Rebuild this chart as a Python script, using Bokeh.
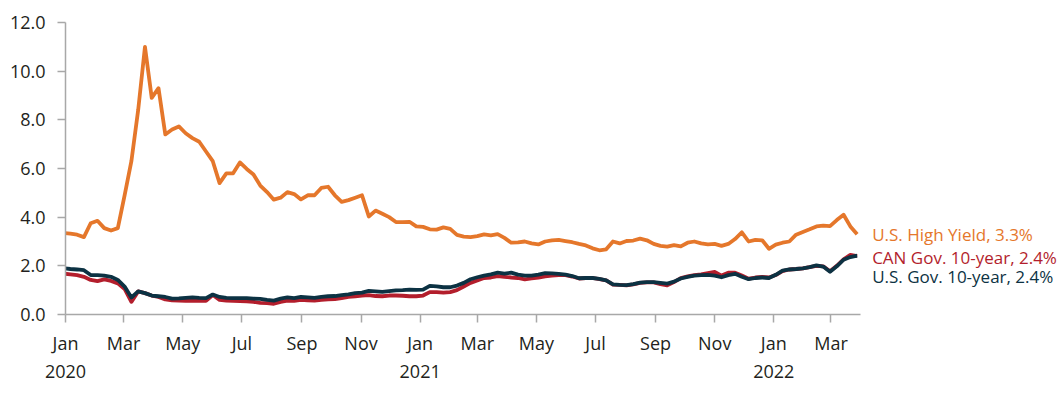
import pandas as pd
from bokeh.plotting import figure
from bokeh.models import (DatetimeAxis, FixedTicker, DatetimeTickFormatter,
                          NumeralTickFormatter, Label, Range1d)
from bokeh.embed import file_html
from bokeh.resources import INLINE

# weekly observations (Mondays) starting 2019-12-30
dates = pd.date_range("2019-12-30", periods=118, freq="7D")

hy = [3.35, 3.32, 3.28, 3.18, 3.75, 3.85, 3.55, 3.45, 3.55, 4.9,
      6.3, 8.4, 11.0, 8.9, 9.3, 7.4, 7.6, 7.73, 7.45, 7.25,
      7.1, 6.7, 6.3, 5.4, 5.8, 5.8, 6.25, 5.98, 5.75, 5.3,
      5.03, 4.72, 4.8, 5.03, 4.95, 4.73, 4.9, 4.9, 5.2, 5.25,
      4.9, 4.63, 4.7, 4.8, 4.9, 4.03, 4.27, 4.14, 4.0, 3.8,
      3.8, 3.81, 3.62, 3.6, 3.5, 3.49, 3.58, 3.52, 3.27, 3.2,
      3.18, 3.22, 3.29, 3.25, 3.3, 3.15, 2.95, 2.96, 3.0, 2.92,
      2.88, 3.0, 3.05, 3.07, 3.02, 2.97, 2.9, 2.84, 2.72, 2.64,
      2.68, 3.0, 2.92, 3.02, 3.04, 3.12, 3.05, 2.9, 2.82, 2.79,
      2.85, 2.8, 2.95, 3.0, 2.92, 2.88, 2.9, 2.82, 2.9, 3.1,
      3.38, 3.0, 3.07, 3.05, 2.7, 2.87, 2.95, 3.0, 3.28, 3.39,
      3.5, 3.62, 3.65, 3.63, 3.88, 4.1, 3.62, 3.3]

can = [1.68, 1.65, 1.62, 1.55, 1.42, 1.37, 1.44, 1.38, 1.28, 1.05,
       0.52, 0.95, 0.88, 0.78, 0.72, 0.62, 0.58, 0.57, 0.56, 0.57,
       0.56, 0.56, 0.8, 0.6, 0.57, 0.56, 0.55, 0.54, 0.52, 0.48,
       0.47, 0.44, 0.52, 0.57, 0.56, 0.6, 0.58, 0.57, 0.6, 0.62,
       0.63, 0.67, 0.72, 0.75, 0.78, 0.8, 0.76, 0.75, 0.78, 0.78,
       0.77, 0.75, 0.75, 0.78, 0.92, 0.92, 0.9, 0.92, 1.0, 1.15,
       1.3, 1.4, 1.5, 1.52, 1.58, 1.55, 1.52, 1.5, 1.44, 1.48,
       1.52, 1.57, 1.6, 1.62, 1.62, 1.56, 1.48, 1.5, 1.5, 1.45,
       1.4, 1.23, 1.22, 1.2, 1.24, 1.3, 1.32, 1.32, 1.25, 1.2,
       1.33, 1.5, 1.57, 1.62, 1.65, 1.7, 1.75, 1.6, 1.72, 1.72,
       1.6, 1.47, 1.52, 1.55, 1.52, 1.62, 1.78, 1.85, 1.87, 1.9,
       1.95, 2.0, 1.98, 1.78, 2.0, 2.27, 2.45, 2.4]

us = [1.9, 1.87, 1.85, 1.82, 1.62, 1.62, 1.6, 1.55, 1.42, 1.15,
      0.7, 0.95, 0.88, 0.78, 0.75, 0.72, 0.65, 0.66, 0.68, 0.7,
      0.68, 0.67, 0.82, 0.72, 0.68, 0.67, 0.67, 0.67, 0.65, 0.64,
      0.6, 0.57, 0.65, 0.7, 0.67, 0.72, 0.7, 0.68, 0.72, 0.75,
      0.76, 0.8, 0.83, 0.88, 0.9, 0.97, 0.95, 0.93, 0.96, 0.99,
      1.0, 1.02, 1.01, 1.02, 1.18, 1.16, 1.12, 1.12, 1.19, 1.3,
      1.45, 1.53, 1.6, 1.65, 1.72, 1.68, 1.72, 1.64, 1.6, 1.6,
      1.64, 1.7, 1.69, 1.67, 1.64, 1.58, 1.49, 1.5, 1.5, 1.46,
      1.4, 1.24, 1.22, 1.21, 1.25, 1.31, 1.33, 1.33, 1.3, 1.27,
      1.35, 1.48, 1.55, 1.6, 1.62, 1.63, 1.6, 1.53, 1.62, 1.67,
      1.55, 1.45, 1.5, 1.52, 1.5, 1.63, 1.8, 1.85, 1.87, 1.9,
      1.95, 2.02, 1.97, 1.76, 1.98, 2.25, 2.36, 2.42]

month_ticks = pd.date_range("2020-01-01", "2022-03-01", freq="2MS")
year_ticks = pd.to_datetime(["2020-01-01", "2021-01-01", "2022-01-01"])
y_ticks = [0, 2, 4, 6, 8, 10, 12]
axis_start = pd.Timestamp("2020-01-01")
axis_end = pd.Timestamp("2022-03-31")

ORANGE = "#E5772B"
RED = "#B31E2C"
NAVY = "#0C3243"
AXIS = "#A8A8A8"
TXT = "#231F20"
FONT = "Open Sans"

p = figure(width=1064, height=394, output_backend="svg", toolbar_location=None,
           x_axis_type="datetime",
           x_range=Range1d(axis_start, pd.Timestamp("2022-10-28")),
           y_range=Range1d(0, 12),
           min_border_left=65, min_border_right=0, min_border_top=22,
           min_border_bottom=80)
p.outline_line_color = None
p.xgrid.visible = False
p.ygrid.visible = False

p.line(dates, can, color=RED, line_width=3.8, line_join="round")
p.line(dates, us, color=NAVY, line_width=3.8, line_join="round")
p.line(dates, hy, color=ORANGE, line_width=3.8, line_join="round")

def ms(ts):
    return [t.value / 1e6 for t in ts]

fmt_keys = ["microseconds", "milliseconds", "seconds", "minsec", "minutes",
            "hourmin", "hours", "days", "months", "years"]

xa = p.xaxis[0]
xa.ticker = FixedTicker(ticks=ms(month_ticks), minor_ticks=[])
xa.formatter = DatetimeTickFormatter(**{k: "%b" for k in fmt_keys})
xa.bounds = (axis_start, axis_end)
xa.axis_line_color = AXIS
xa.axis_line_width = 1.5
xa.major_tick_line_color = AXIS
xa.major_tick_line_width = 1.5
xa.major_tick_in = 0
xa.major_tick_out = 8
xa.minor_tick_line_color = None
xa.major_label_standoff = 8
xa.major_label_text_font = FONT
xa.major_label_text_font_size = "18px"
xa.major_label_text_color = TXT

ya2 = DatetimeAxis(ticker=FixedTicker(ticks=ms(year_ticks), minor_ticks=[]),
                   formatter=DatetimeTickFormatter(**{k: "%Y" for k in fmt_keys}))
ya2.axis_line_color = None
ya2.major_tick_line_color = None
ya2.minor_tick_line_color = None
ya2.major_tick_in = 0
ya2.major_tick_out = 0
ya2.major_label_standoff = 7
ya2.major_label_text_font = FONT
ya2.major_label_text_font_size = "18px"
ya2.major_label_text_color = TXT
p.add_layout(ya2, "below")

yax = p.yaxis[0]
yax.ticker = FixedTicker(ticks=y_ticks, minor_ticks=[])
yax.formatter = NumeralTickFormatter(format="0.0")
yax.axis_line_color = AXIS
yax.axis_line_width = 1.5
yax.major_tick_line_color = AXIS
yax.major_tick_line_width = 1.5
yax.major_tick_in = 0
yax.major_tick_out = 8
yax.minor_tick_line_color = None
yax.major_label_standoff = 12
yax.major_label_text_font = FONT
yax.major_label_text_font_size = "18px"
yax.major_label_text_color = TXT

labels = [
    (f"U.S. High Yield, {hy[-1]:.1f}%", hy[-1], ORANGE, 0),
    (f"CAN Gov. 10-year, {can[-1]:.1f}%", can[-1], RED, -1),
    (f"U.S. Gov. 10-year, {us[-1]:.1f}%", us[-1], NAVY, -21),
]
for txt, yv, col, off in labels:
    p.add_layout(Label(x=dates[-1], y=yv, x_offset=15, y_offset=off, text=txt,
                       text_baseline="middle", text_align="left",
                       text_font=FONT, text_font_size="17px", text_color=col))

open("out.html", "w").write(file_html(p, INLINE))
